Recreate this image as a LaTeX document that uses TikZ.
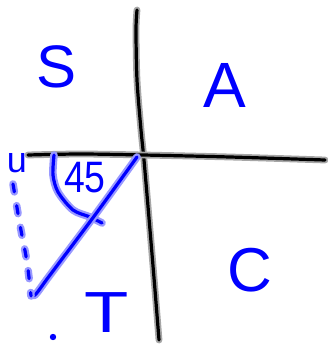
\documentclass[tikz,border=0pt]{standalone}
\usepackage{fontspec}
\setmainfont{Liberation Sans}
\tikzset{
  pen/.style={draw=blue!40, double=blue, double distance=3.2pt, line width=2.2pt,
    line cap=round, line join=round},
  dashpen/.style={pen, dash pattern=on 8pt off 14pt},
  axis/.style={draw=black!35, double=black, double distance=3.2pt, line width=1.8pt,
    line cap=round, line join=round},
  lbl/.style={text=blue, inner sep=0pt, anchor=center},
}
\begin{document}
\begin{tikzpicture}[x=1pt,y=-1pt]
\useasboundingbox (0,0) rectangle (328,345);
% axes
\draw[axis] plot[smooth] coordinates {(137,10) (136,30) (137,80) (141,130) (144,160) (150,230) (155,290) (159,340)};
\draw[axis] plot[smooth] coordinates {(28,155) (80,154) (143,155) (230,157) (325,160)};
% triangle
\draw[pen] plot[smooth] coordinates {(54,155) (53,175) (58,192) (73,210) (90,217) (102,223)};
\draw[pen] plot[smooth] coordinates {(137,157) (95,215) (50,275) (35,295) (31,293)};
% dotted line
\draw[dashpen] plot[smooth] coordinates {(13,184) (20,225) (27,262) (31,296)};
% dot
\fill[blue] (53,337) circle[radius=3.2pt];
% labels
\node[lbl, font=\fontsize{60}{60}\selectfont] (S) at (57,67) {S};
\node[lbl, font=\fontsize{64}{64}\selectfont] (A) at (225,85) {A};
\node[lbl, font=\fontsize{58}{58}\selectfont, xscale=1.25] (T) at (107,313) {T};
\node[lbl, font=\fontsize{62}{62}\selectfont] (C) at (250,270) {C};
\node[lbl, font=\fontsize{44}{44}\selectfont, xscale=0.85] (ang) at (85,178) {45};
\node[lbl, font=\fontsize{36}{36}\selectfont] (u) at (17,163) {u};
\end{tikzpicture}
\end{document}
